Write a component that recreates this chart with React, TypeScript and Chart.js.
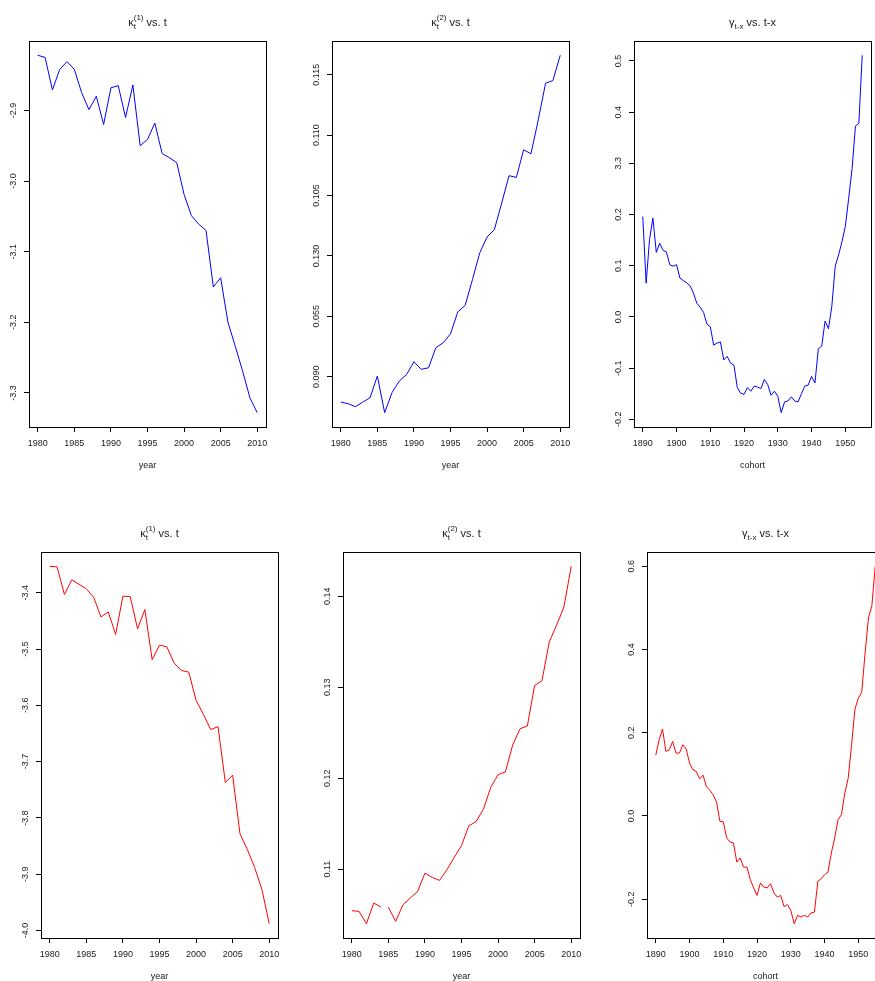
import { useEffect, useRef } from "react";
import { Chart, registerables } from "chart.js";

Chart.register(...registerables);

// ---- data -------------------------------------------------------------

const years = [
  1980, 1981, 1982, 1983, 1984, 1985, 1986, 1987, 1988, 1989, 1990, 1991, 1992, 1993, 1994, 1995,
  1996, 1997, 1998, 1999, 2000, 2001, 2002, 2003, 2004, 2005, 2006, 2007, 2008, 2009, 2010,
];

const cohorts = [
  1890, 1891, 1892, 1893, 1894, 1895, 1896, 1897, 1898, 1899, 1900, 1901, 1902, 1903, 1904, 1905,
  1906, 1907, 1908, 1909, 1910, 1911, 1912, 1913, 1914, 1915, 1916, 1917, 1918, 1919, 1920, 1921,
  1922, 1923, 1924, 1925, 1926, 1927, 1928, 1929, 1930, 1931, 1932, 1933, 1934, 1935, 1936, 1937,
  1938, 1939, 1940, 1941, 1942, 1943, 1944, 1945, 1946, 1947, 1948, 1949, 1950, 1951, 1952, 1953,
  1954, 1955,
];

const kappa1Blue = [
  -2.822, -2.825, -2.871, -2.842, -2.831, -2.842, -2.875, -2.899, -2.88, -2.92, -2.868, -2.865,
  -2.91, -2.864, -2.95, -2.941, -2.918, -2.961, -2.967, -2.974, -3.019, -3.049, -3.061, -3.07,
  -3.15, -3.137, -3.2, -3.234, -3.269, -3.307, -3.328,
];

const kappa2Blue = [
  0.0879, 0.08777, 0.08752, 0.0879, 0.08826, 0.09006, 0.08702, 0.08868, 0.08964, 0.09019, 0.09124,
  0.09061, 0.09074, 0.0924, 0.09281, 0.09355, 0.09537, 0.0959, 0.09804, 0.10025, 0.10157, 0.10218,
  0.10438, 0.10664, 0.1065, 0.10879, 0.10846, 0.11127, 0.1143, 0.11452, 0.11661,
];

const gammaBlue = [
  0.196, 0.066, 0.151, 0.193, 0.126, 0.144, 0.13, 0.127, 0.102, 0.099,
  0.102, 0.076, 0.071, 0.067, 0.061, 0.047, 0.027, 0.019, 0.009, -0.014,
  -0.019, -0.055, -0.051, -0.049, -0.084, -0.077, -0.09, -0.094, -0.138, -0.149,
  -0.151, -0.138, -0.145, -0.135, -0.137, -0.14, -0.122, -0.132, -0.153, -0.145,
  -0.155, -0.187, -0.166, -0.164, -0.156, -0.164, -0.166, -0.15, -0.135, -0.133,
  -0.116, -0.129, -0.062, -0.057, -0.008, -0.023, 0.021, 0.099, 0.121, 0.147,
  0.177, 0.232, 0.29, 0.373, 0.378, 0.511,
];

const kappa1Red = [
  -3.353, -3.354, -3.403, -3.377, -3.385, -3.393, -3.408, -3.443, -3.434, -3.474, -3.406, -3.407,
  -3.464, -3.43, -3.519, -3.493, -3.496, -3.525, -3.538, -3.541, -3.591, -3.616, -3.643, -3.638,
  -3.737, -3.724, -3.828, -3.856, -3.888, -3.927, -3.988,
];

const kappa2Red = [
  0.10543, 0.10535, 0.104, 0.10627, 0.10583, 0.10583, 0.10426, 0.10608, 0.10682, 0.10755, 0.10956,
  0.10909, 0.10876, 0.10993, 0.11128, 0.1126, 0.11476, 0.11523, 0.11659, 0.119, 0.12039, 0.12068,
  0.12365, 0.12544, 0.12573, 0.1302, 0.13071, 0.13499, 0.13682, 0.13883, 0.1433,
];

const gammaRed = [
  0.146, 0.183, 0.209, 0.155, 0.159, 0.179, 0.151, 0.151, 0.171, 0.161,
  0.127, 0.111, 0.107, 0.089, 0.098, 0.07, 0.062, 0.051, 0.033, -0.013,
  -0.014, -0.053, -0.063, -0.065, -0.111, -0.101, -0.123, -0.123, -0.153, -0.173,
  -0.191, -0.161, -0.171, -0.173, -0.163, -0.185, -0.195, -0.191, -0.218, -0.213,
  -0.227, -0.259, -0.239, -0.243, -0.239, -0.243, -0.233, -0.231, -0.157, -0.151,
  -0.141, -0.135, -0.089, -0.053, -0.009, 0.003, 0.055, 0.091, 0.171, 0.257,
  0.283, 0.297, 0.392, 0.476, 0.505, 0.6,
];

// years whose segment to the following year is left undrawn
const kappa2RedBreaks = [1984];

// ---- axis ticks ---------------------------------------------------------

const yearTicks = [1980, 1985, 1990, 1995, 2000, 2005, 2010];
const cohortTicks = [1890, 1900, 1910, 1920, 1930, 1940, 1950];

const kappa1BlueTicks = [-3.3, -3.2, -3.1, -3.0, -2.9];
const kappa1BlueLabels = ["-3.3", "-3.2", "-3.1", "-3.0", "-2.9"];

const kappa2BlueTicks = [0.09, 0.095, 0.1, 0.105, 0.11, 0.115];
const kappa2BlueLabels = ["0.090", "0.055", "0.130", "0.105", "0.110", "0.115"];

const gammaBlueTicks = [-0.2, -0.1, 0.0, 0.1, 0.2, 0.3, 0.4, 0.5];
const gammaBlueLabels = ["-0.2", "-0.1", "0.0", "0.1", "0.2", "3.3", "0.4", "0.5"];

const kappa1RedTicks = [-4.0, -3.9, -3.8, -3.7, -3.6, -3.5, -3.4];
const kappa1RedLabels = ["-4.0", "-3.9", "-3.8", "-3.7", "-3.6", "-3.5", "-3.4"];

const kappa2RedTicks = [0.11, 0.12, 0.13, 0.14];
const kappa2RedLabels = ["0.11", "0.12", "0.13", "0.14"];

const gammaRedTicks = [-0.2, 0.0, 0.2, 0.4, 0.6];
const gammaRedLabels = ["-0.2", "0.0", "0.2", "0.4", "0.6"];

// ---- layout -------------------------------------------------------------

const FONT = '"Liberation Sans", Arial, Helvetica, sans-serif';
const TEXT = "#1a1a1a";
const PLOT_W = 237;
const PLOT_H = 386;
const M_LEFT = 28;
const M_TOP = 41;
const M_RIGHT = 10;
const M_BOTTOM = 50;
const CANVAS_W = M_LEFT + PLOT_W + M_RIGHT;
const CANVAS_H = M_TOP + PLOT_H + M_BOTTOM;

type TitleKind = { symbol: string; sub: string; sup: string; rest: string };

const kappaTitle = (k: string): TitleKind => ({ symbol: "κ", sub: "t", sup: `(${k})`, rest: " vs. t" });
const gammaTitle: TitleKind = { symbol: "γ", sub: "t-x", sup: "", rest: " vs. t-x" };

type PanelSpec = {
  left: number;
  top: number;
  xs: number[];
  ys: number[];
  color: string;
  xTicks: number[];
  yTicks: number[];
  yLabels: string[];
  xTitle: string;
  title: TitleKind;
  breaks?: number[];
};

const panels: PanelSpec[] = [
  { left: 1, top: 0, xs: years, ys: kappa1Blue, color: "#0000ff", xTicks: yearTicks, yTicks: kappa1BlueTicks, yLabels: kappa1BlueLabels, xTitle: "year", title: kappaTitle("1") },
  { left: 304, top: 0, xs: years, ys: kappa2Blue, color: "#0000ff", xTicks: yearTicks, yTicks: kappa2BlueTicks, yLabels: kappa2BlueLabels, xTitle: "year", title: kappaTitle("2") },
  { left: 606, top: 0, xs: cohorts, ys: gammaBlue, color: "#0000ff", xTicks: cohortTicks, yTicks: gammaBlueTicks, yLabels: gammaBlueLabels, xTitle: "cohort", title: gammaTitle },
  { left: 13, top: 511, xs: years, ys: kappa1Red, color: "#ff0000", xTicks: yearTicks, yTicks: kappa1RedTicks, yLabels: kappa1RedLabels, xTitle: "year", title: kappaTitle("1") },
  { left: 315, top: 511, xs: years, ys: kappa2Red, color: "#ff0000", xTicks: yearTicks, yTicks: kappa2RedTicks, yLabels: kappa2RedLabels, xTitle: "year", title: kappaTitle("2"), breaks: kappa2RedBreaks },
  { left: 619, top: 511, xs: cohorts, ys: gammaRed, color: "#ff0000", xTicks: cohortTicks, yTicks: gammaRedTicks, yLabels: gammaRedLabels, xTitle: "cohort", title: gammaTitle },
];

// data range widened by 4% on each side
function paddedRange(v: number[]) {
  const lo = Math.min(...v);
  const hi = Math.max(...v);
  const pad = (hi - lo) * 0.04;
  return { min: lo - pad, max: hi + pad };
}

function drawTitle(ctx: CanvasRenderingContext2D, t: TitleKind, cx: number, baseY: number) {
  const mainFont = `11px ${FONT}`;
  const smallFont = `8px ${FONT}`;
  ctx.font = mainFont;
  const wSym = ctx.measureText(t.symbol).width;
  const wRest = ctx.measureText(t.rest).width;
  ctx.font = smallFont;
  const wSub = ctx.measureText(t.sub).width;
  const wSup = t.sup ? ctx.measureText(t.sup).width : 0;
  const wScript = Math.max(wSub, wSup);
  const total = wSym + wScript + wRest;
  let x = cx - total / 2;
  ctx.fillStyle = TEXT;
  ctx.textAlign = "left";
  ctx.textBaseline = "alphabetic";
  ctx.font = mainFont;
  ctx.fillText(t.symbol, x, baseY);
  x += wSym;
  ctx.font = smallFont;
  ctx.fillText(t.sub, x, baseY + 2.5);
  if (t.sup) ctx.fillText(t.sup, x, baseY - 6);
  x += wScript;
  ctx.font = mainFont;
  ctx.fillText(t.rest, x, baseY);
}

function Panel({ spec }: { spec: PanelSpec }) {
  const ref = useRef<HTMLCanvasElement>(null);

  useEffect(() => {
    const canvas = ref.current;
    if (!canvas) return;
    const xr = paddedRange(spec.xs);
    const yr = paddedRange(spec.ys);
    const breaks = spec.breaks ?? [];
    const points = spec.xs.map((x, i) => ({ x, y: spec.ys[i] }));

    const decor = {
      id: "panelDecor",
      afterDraw(chart: Chart) {
        const { ctx, chartArea: a } = chart;
        const ys = chart.scales.y;
        ctx.save();
        // plot frame
        ctx.strokeStyle = "#000";
        ctx.lineWidth = 1;
        ctx.strokeRect(
          Math.round(a.left) + 0.5,
          Math.round(a.top) + 0.5,
          Math.round(a.right - a.left),
          Math.round(a.bottom - a.top)
        );
        // vertical y tick labels
        ctx.font = `9px ${FONT}`;
        ctx.fillStyle = TEXT;
        ctx.textAlign = "center";
        ctx.textBaseline = "middle";
        ys.ticks.forEach((t, i) => {
          const py = ys.getPixelForValue(t.value);
          ctx.save();
          ctx.translate(a.left - 15, py);
          ctx.rotate(-Math.PI / 2);
          ctx.fillText(spec.yLabels[i], 0, 0);
          ctx.restore();
        });
        drawTitle(ctx, spec.title, (a.left + a.right) / 2, 26);
        ctx.restore();
      },
    };

    const chart = new Chart(canvas, {
      type: "line",
      data: {
        datasets: [
          {
            data: points,
            borderColor: spec.color,
            borderWidth: 1,
            pointRadius: 0,
            tension: 0,
            fill: false,
            segment: {
              borderColor: (c: any) =>
                breaks.includes(spec.xs[c.p0DataIndex]) ? "rgba(0,0,0,0)" : spec.color,
            },
          },
        ],
      },
      options: {
        animation: false,
        responsive: false,
        devicePixelRatio: 1,
        layout: { padding: { left: 0, top: M_TOP, right: M_RIGHT, bottom: 0 } },
        plugins: { legend: { display: false }, tooltip: { enabled: false }, title: { display: false } },
        scales: {
          x: {
            type: "linear",
            min: xr.min,
            max: xr.max,
            afterBuildTicks: (s: any) => {
              s.ticks = spec.xTicks.map((v) => ({ value: v }));
            },
            afterFit: (s: any) => {
              s.height = M_BOTTOM;
            },
            grid: { drawOnChartArea: false, drawTicks: true, tickLength: 5, color: "#000", lineWidth: 1 },
            border: { display: true, color: "#000", width: 1 },
            ticks: {
              autoSkip: false,
              maxRotation: 0,
              minRotation: 0,
              padding: 6,
              color: TEXT,
              font: { family: FONT, size: 9 },
              callback: (v: any) => String(v),
            },
            title: {
              display: true,
              text: spec.xTitle,
              color: TEXT,
              font: { family: FONT, size: 9 },
              padding: { top: 0, bottom: 6 },
            },
          },
          y: {
            type: "linear",
            min: yr.min,
            max: yr.max,
            afterBuildTicks: (s: any) => {
              s.ticks = spec.yTicks.map((v) => ({ value: v }));
            },
            afterFit: (s: any) => {
              s.width = M_LEFT;
            },
            grid: { drawOnChartArea: false, drawTicks: true, tickLength: 5, color: "#000", lineWidth: 1 },
            border: { display: true, color: "#000", width: 1 },
            ticks: { display: false },
          },
        },
      },
      plugins: [decor],
    } as any);

    return () => chart.destroy();
  }, [spec]);

  return (
    <canvas
      ref={ref}
      width={CANVAS_W}
      height={CANVAS_H}
      style={{ position: "absolute", left: spec.left, top: spec.top, width: CANVAS_W, height: CANVAS_H }}
    />
  );
}

export default function App() {
  return (
    <div
      style={{
        position: "fixed",
        left: 0,
        top: 0,
        width: 875,
        height: 981,
        overflow: "hidden",
        background: "#fff",
      }}
    >
      {panels.map((p, i) => (
        <Panel key={i} spec={p} />
      ))}
    </div>
  );
}
